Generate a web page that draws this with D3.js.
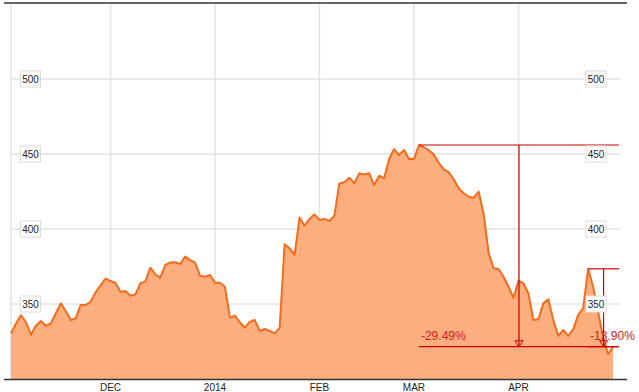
<!DOCTYPE html>
<html>
<head>
<meta charset="utf-8">
<script src="https://cdn.jsdelivr.net/npm/d3@7"></script>
<style>
  html, body { margin: 0; padding: 0; background: #fff; }
  svg { display: block; font-family: Arial, "Liberation Sans", sans-serif; }
</style>
</head>
<body>
<svg id="chart" width="639" height="392"></svg>
<script>
// ---- data ----
const startDate = "2013-11-01";
const endDate = "2014-04-29";
const holidays = ["2013-11-28", "2013-12-25", "2014-01-01", "2014-01-20", "2014-02-17", "2014-04-18"];

const prices = [
  330.4, 337, 342.5, 338, 329.5, 335.5, 338.7, 335.5, 337, 343.8,
  350.4, 345.3, 339.3, 340.4, 349.3, 349.3, 351.5, 357.8, 362.5, 367,
  365.3, 364, 358, 358.7, 355.5, 356.4, 363.8, 364.9, 374.2, 369.8,
  367.6, 376, 377.6, 377.8, 376.7, 381.6, 379.3, 377.6, 368.9, 368.2,
  369.3, 364.2, 364.2, 361.5, 340.9, 342.2, 337.8, 334.2, 338.2, 339.3,
  332, 333.3, 332, 330.4, 334.2, 389.8, 387.1, 382.7, 407.6, 402.2,
  406.7, 409.8, 406, 406.7, 405.3, 408.9, 430.4, 431.1, 434.2, 430.4,
  437.1, 436.4, 437.1, 429.3, 435.5, 433.8, 446.7, 453.3, 449.3, 452.7,
  446.7, 446.7, 456, 454.5, 452.5, 449.5, 444, 439.7, 437.7, 433,
  427, 423.8, 421.5, 420.9, 424.9, 410, 384, 373.8, 373.3, 368.2,
  361.5, 354, 365.5, 363.8, 357.1, 339.3, 339.8, 350.4, 353.1, 339.3,
  328.7, 332.7, 328.7, 333.1, 342.7, 347.1, 373.45, 361.5, 345, 328,
  316.5, 321.53
];

const monthTickDates = ["2013-11-01", "2013-12-02", "2014-01-02", "2014-02-03", "2014-03-03", "2014-04-01"];
const monthTickLabels = ["", "DEC", "2014", "FEB", "MAR", "APR"];

const yTicks = [350, 400, 450, 500];

const measureStarts = ["2014-03-04", "2014-04-22"];

// ---- trading calendar ----
const fmt = d3.timeFormat("%Y-%m-%d");
const parse = d3.timeParse("%Y-%m-%d");
const dates = d3.timeDay.range(parse(startDate), d3.timeDay.offset(parse(endDate), 1))
  .filter(d => d.getDay() !== 0 && d.getDay() !== 6 && !holidays.includes(fmt(d)))
  .map(fmt);

const data = dates.map((d, i) => ({ date: d, value: prices[i] }));

// ---- layout ----
const svg = d3.select("#chart");
const plotLeft = 11, plotRight = 620, plotTop = 4, plotBottom = 379;

const x = d3.scalePoint().domain(dates).range([11, 613]);
const y = d3.scaleLinear().domain([300, 550]).range([plotBottom, plotTop]);

// gridlines
const grid = svg.append("g");
grid.selectAll("line.v").data(monthTickDates).join("line")
  .attr("x1", d => x(d)).attr("x2", d => x(d))
  .attr("y1", plotTop).attr("y2", plotBottom)
  .attr("stroke", "#e3e3e3").attr("stroke-width", 1.5);
grid.selectAll("line.h").data(yTicks).join("line")
  .attr("x1", plotLeft).attr("x2", plotRight)
  .attr("y1", d => y(d)).attr("y2", d => y(d))
  .attr("stroke", "#e3e3e3").attr("stroke-width", 1.5);

// area + line
const area = d3.area().x(d => x(d.date)).y0(y(300)).y1(d => y(d.value));
const line = d3.line().x(d => x(d.date)).y(d => y(d.value));
svg.append("path").datum(data).attr("d", area)
  .attr("fill", "#fca874").attr("fill-opacity", 0.93);
svg.append("path").datum(data).attr("d", line)
  .attr("fill", "none").attr("stroke", "#f26c1c").attr("stroke-width", 2)
  .attr("stroke-linejoin", "round");

// frame lines
svg.append("line").attr("x1", 4).attr("x2", 627).attr("y1", 3).attr("y2", 3)
  .attr("stroke", "#333").attr("stroke-width", 1.5);
svg.append("line").attr("x1", 4).attr("x2", 627).attr("y1", plotBottom + 0.5).attr("y2", plotBottom + 0.5)
  .attr("stroke", "#333").attr("stroke-width", 1.5);

// month labels
svg.append("g").selectAll("text").data(monthTickDates).join("text")
  .attr("x", d => x(d)).attr("y", 390.5)
  .attr("text-anchor", "middle").attr("font-size", 10).attr("fill", "#222")
  .text((d, i) => monthTickLabels[i]);

// measurement annotations
const red = "#cc0000";
const last = data[data.length - 1];
const xEnd = 619;
const ann = svg.append("g");
measureStarts.forEach(s => {
  const p = data.find(d => d.date === s);
  const x0 = x(s), y0 = y(p.value), y1 = y(last.value);
  const xm = (x0 + xEnd) / 2;
  ann.append("line").attr("x1", x0).attr("x2", xEnd).attr("y1", y0).attr("y2", y0)
    .attr("stroke", red).attr("stroke-width", 1.2);
  ann.append("line").attr("x1", xm).attr("x2", xm).attr("y1", y0).attr("y2", y1)
    .attr("stroke", red).attr("stroke-width", 1.2);
  ann.append("path")
    .attr("d", `M${xm - 4},${y1 - 6}L${xm + 4},${y1 - 6}L${xm},${y1}Z`)
    .attr("fill", "none").attr("stroke", red).attr("stroke-width", 1);
  ann.append("line").attr("x1", x0).attr("x2", xEnd).attr("y1", y1).attr("y2", y1)
    .attr("stroke", red).attr("stroke-width", 1.2);
  const pct = (last.value / p.value - 1) * 100;
  ann.append("text").attr("x", x0 + 2).attr("y", y1 - 6.5)
    .attr("font-size", 12).attr("fill", "#d42020")
    .text(pct.toFixed(2) + "%");
});

// y labels (both sides)
const ylab = svg.append("g");
[30.5, 596].forEach(cx => {
  yTicks.forEach(v => {
    const g = ylab.append("g").attr("transform", `translate(${cx},${y(v)})`);
    g.append("rect").attr("x", -10).attr("y", -8).attr("width", 20).attr("height", 16)
      .attr("fill", "#fff").attr("stroke", "#dcdcdc").attr("stroke-width", 1);
    g.append("text").attr("x", 0).attr("y", 3.8).attr("text-anchor", "middle")
      .attr("font-size", 10).attr("fill", "#222").text(v);
  });
});
</script>
</body>
</html>
